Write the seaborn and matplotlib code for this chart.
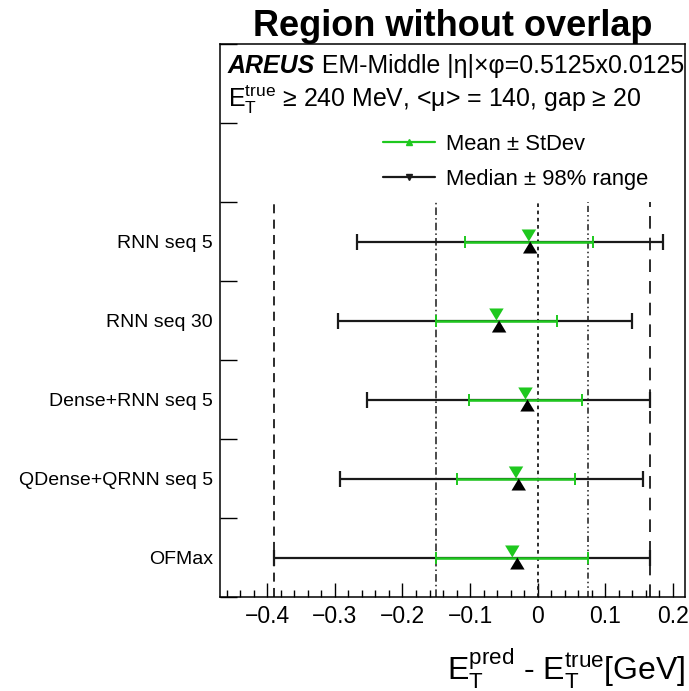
import numpy as np
import pandas as pd
import matplotlib
matplotlib.use("Agg")
import matplotlib.pyplot as plt
from matplotlib.lines import Line2D
from matplotlib.path import Path
import seaborn as sns

# Residuals E_T^pred - E_T^true [GeV] per energy-reconstruction model
models = ["RNN seq 5", "RNN seq 30", "Dense+RNN seq 5", "QDense+QRNN seq 5", "OFMax"]
mean = [-0.013, -0.061, -0.018, -0.032, -0.0375]
stdev = [0.095, 0.089, 0.084, 0.087, 0.1125]
median = [-0.011, -0.057, -0.015, -0.028, -0.030]
range98_lo = [-0.267, -0.295, -0.253, -0.293, -0.390]
range98_hi = [0.185, 0.139, 0.166, 0.156, 0.166]
xticks = [-0.4, -0.3, -0.2, -0.1, 0.0, 0.1, 0.2]
xtick_labels = ["\u22120.4", "\u22120.3", "\u22120.2", "\u22120.1", "0", "0.1", "0.2"]

sns.set_style("ticks")
plt.rcParams["font.family"] = ["Liberation Sans", "DejaVu Sans"]
plt.rcParams["mathtext.fontset"] = "custom"
plt.rcParams["mathtext.rm"] = "Liberation Sans"
plt.rcParams["mathtext.it"] = "Liberation Sans:italic"
plt.rcParams["mathtext.bf"] = "Liberation Sans:bold"
for key in ["text.color", "axes.labelcolor", "xtick.color", "ytick.color",
            "axes.edgecolor"]:
    plt.rcParams[key] = "black"

GREEN = "#1ec81e"
BLACK = "#1a1a1a"

n = len(models)
df = pd.DataFrame({
    "model": models,
    "mean": mean,
    "stdev": stdev,
    "median": median,
    "lo": range98_lo,
    "hi": range98_hi,
})
# rows stacked from bottom (last model) upwards, half-integer centres
df["pos"] = (n - 1 - np.arange(n)) + 0.5

fig = plt.figure(figsize=(6.89, 6.91), dpi=100)
ax = fig.add_axes([220 / 689, 94 / 691, 465 / 689, 553 / 691])

# reference lines at the OFMax spreads and at zero
ofm = df[df["model"] == "OFMax"].iloc[0]
ymax_lines = n
ax.vlines(ofm["lo"], 0, ymax_lines, colors=BLACK, lw=1.3, linestyles=(0, (5, 3.5)), zorder=1)
ax.vlines(ofm["hi"], 0, ymax_lines, colors=BLACK, lw=1.3, linestyles=(0, (7, 5)), zorder=1)
ax.vlines(ofm["mean"] - ofm["stdev"], 0, ymax_lines, colors=BLACK, lw=1.1,
          linestyles=(0, (5, 2, 1, 2)), zorder=1)
ax.vlines(ofm["mean"] + ofm["stdev"], 0, ymax_lines, colors=BLACK, lw=1.1,
          linestyles=(0, (4, 2, 1, 2, 1, 2)), zorder=1)
ax.vlines(0.0, 0, ymax_lines, colors=BLACK, lw=1.3, linestyles=(0, (2, 2)), zorder=1)

# median +- 98% range (black), mean +- stdev (green)
ax.errorbar(df["median"], df["pos"],
            xerr=[df["median"] - df["lo"], df["hi"] - df["median"]],
            fmt="none", ecolor=BLACK, elinewidth=1.6, capsize=6, capthick=1.6, zorder=2)
ax.errorbar(df["mean"], df["pos"], xerr=df["stdev"],
            fmt="none", ecolor=GREEN, elinewidth=1.8, capsize=4, capthick=1.4, zorder=3)

# triangle markers with their tips on the row line
tri_down = Path([(0, 0), (-1.2, 2), (1.2, 2), (0, 0)],
                [Path.MOVETO, Path.LINETO, Path.LINETO, Path.CLOSEPOLY])
tri_up = Path([(0, 0), (-1.2, -2), (1.2, -2), (0, 0)],
              [Path.MOVETO, Path.LINETO, Path.LINETO, Path.CLOSEPOLY])
sns.scatterplot(data=df, x="mean", y="pos", marker=tri_down, s=300,
                color=GREEN, edgecolor="none", linewidth=0, zorder=4, ax=ax, legend=False)
sns.scatterplot(data=df, x="median", y="pos", marker=tri_up, s=300,
                color="black", edgecolor="none", linewidth=0, zorder=5, ax=ax, legend=False)

# axes
ax.set_xlim(-0.47, 0.218)
ax.set_ylim(0, 7)
ax.set_xticks(xticks)
ax.set_xticklabels(xtick_labels)
ax.set_xticks(np.arange(-0.46, 0.22, 0.02), minor=True)
ax.set_yticks(range(8))
ax.set_yticklabels([])
ax.set_yticks(df["pos"], minor=True)
ax.set_yticklabels(df["model"], minor=True)
ax.tick_params(axis="x", which="major", direction="in", length=10, width=1.0,
               labelsize=16.5, pad=6, top=False)
ax.tick_params(axis="x", which="minor", direction="in", length=5, width=1.0, top=False)
ax.tick_params(axis="y", which="major", direction="in", length=12.5, width=1.0, right=False)
ax.tick_params(axis="y", which="minor", length=0, labelsize=14, pad=5)
for s in ax.spines.values():
    s.set_linewidth(1.1)
ax.set_xlabel("$\\mathregular{E_T^{pred}}$ - $\\mathregular{E_T^{true}}$[GeV]",
              fontsize=23, loc="right", labelpad=13.5)
ax.set_ylabel("")
ax.set_title("Region without overlap", fontsize=26, fontweight="bold", pad=3)

# annotations
t1 = ax.text(0.017, 0.9476, "AREUS", transform=ax.transAxes, fontsize=17.9,
             fontweight="bold", fontstyle="italic", va="baseline", ha="left")
ax.annotate(" EM-Middle |\u03b7|\u00d7\u03c6=0.5125x0.0125", xy=(1, 0), xycoords=t1,
            fontsize=17.9, va="bottom", ha="left")
ax.text(0.017, 0.886,
        "$\\mathregular{E_T^{true}}$ \u2265 240 MeV, <\u03bc> = 140, gap \u2265 20",
        transform=ax.transAxes, fontsize=17.9, va="baseline", ha="left")

handles = [
    Line2D([], [], color=GREEN, lw=1.6, marker="^", ms=5),
    Line2D([], [], color=BLACK, lw=1.6, marker="v", ms=5),
]
ax.legend(handles, ["Mean \u00b1 StDev", "Median \u00b1 98% range"],
          loc="upper left", bbox_to_anchor=(0.35, 0.838), frameon=False,
          fontsize=15.8, handlelength=2.4, handletextpad=0.5, labelspacing=0.64,
          borderpad=0, borderaxespad=0, numpoints=1)

fig.savefig("out.png", dpi=100)
